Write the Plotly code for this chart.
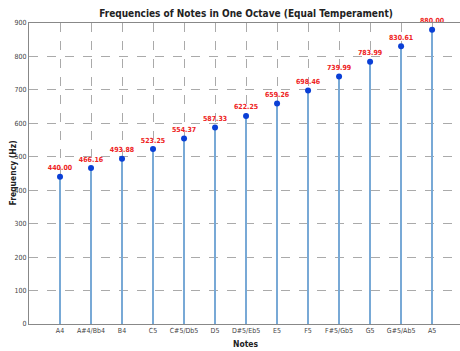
import plotly.graph_objects as go

notes = ["A4", "A#4/Bb4", "B4", "C5", "C#5/Db5", "D5", "D#5/Eb5", "E5", "F5",
         "F#5/Gb5", "G5", "G#5/Ab5", "A5"]
freqs = [440.00, 466.16, 493.88, 523.25, 554.37, 587.33, 622.25, 659.26, 698.46,
         739.99, 783.99, 830.61, 880.00]
y_ticks = [0, 100, 200, 300, 400, 500, 600, 700, 800, 900]

xpos = list(range(1, len(notes) + 1))
FONT = "DejaVu Sans Condensed, Liberation Sans Narrow, Arial Narrow, sans-serif"

W, H = 460, 351
L, R, T, B = 29, 0, 23, 27
plot_h = H - T - B
plot_w = W - L - R

fig = go.Figure()
fig.add_trace(go.Bar(x=xpos, y=freqs, width=0.09,
                     marker=dict(color="#78a9d6", line=dict(width=0)),
                     hoverinfo="skip", showlegend=False))
fig.add_trace(go.Scatter(x=xpos, y=freqs, mode="markers+text",
                         marker=dict(color="#0a3fd6", size=6),
                         text=[f"<b>{v:.2f}</b>" for v in freqs], textposition="top center",
                         textfont=dict(color="#ee2222", size=7, family=FONT),
                         showlegend=False, cliponaxis=False))

fig.update_layout(
    width=W, height=H,
    margin=dict(l=L, r=R, t=T, b=B, autoexpand=False),
    paper_bgcolor="white", plot_bgcolor="white",
    bargap=0,
    title=dict(text="<b>Frequencies of Notes in One Octave (Equal Temperament)</b>",
               x=246 / W, xanchor="center", y=1 - 13 / H, yref="container",
               yanchor="middle",
               font=dict(size=10, color="#222", family=FONT)),
    font=dict(family=FONT, size=7, color="#444"),
)
fig.add_annotation(text="<b>Notes</b>", x=(245 - L) / plot_w, xref="paper",
                   y=-(344 - (H - B)) / plot_h, yref="paper", yanchor="middle",
                   showarrow=False, font=dict(size=8.5, color="#222", family=FONT))
fig.add_annotation(text="<b>Frequency (Hz)</b>", textangle=-90,
                   x=-(L - 12) / plot_w, xref="paper", xanchor="center",
                   y=0.5, yref="paper",
                   showarrow=False, font=dict(size=8.5, color="#222", family=FONT))

fig.update_xaxes(range=[0, 13.9], tickmode="array", tickvals=xpos, ticktext=notes,
                 showgrid=True, gridcolor="#aaaaaa", griddash="dash", gridwidth=1,
                 showline=True, linecolor="#888888", linewidth=1, mirror=True,
                 ticks="", zeroline=False, automargin=False,
                 tickfont=dict(size=7, color="#444"))
fig.update_yaxes(range=[0, 900], tickmode="array", tickvals=y_ticks,
                 showgrid=True, gridcolor="#aaaaaa", griddash="dash", gridwidth=1,
                 showline=True, linecolor="#888888", linewidth=1, mirror=True,
                 ticks="", zeroline=False, automargin=False,
                 tickfont=dict(size=7, color="#444"))

fig.write_html("out.html", config={"displayModeBar": False},
               post_script="document.body.style.margin='0';document.body.style.overflow='hidden';")
